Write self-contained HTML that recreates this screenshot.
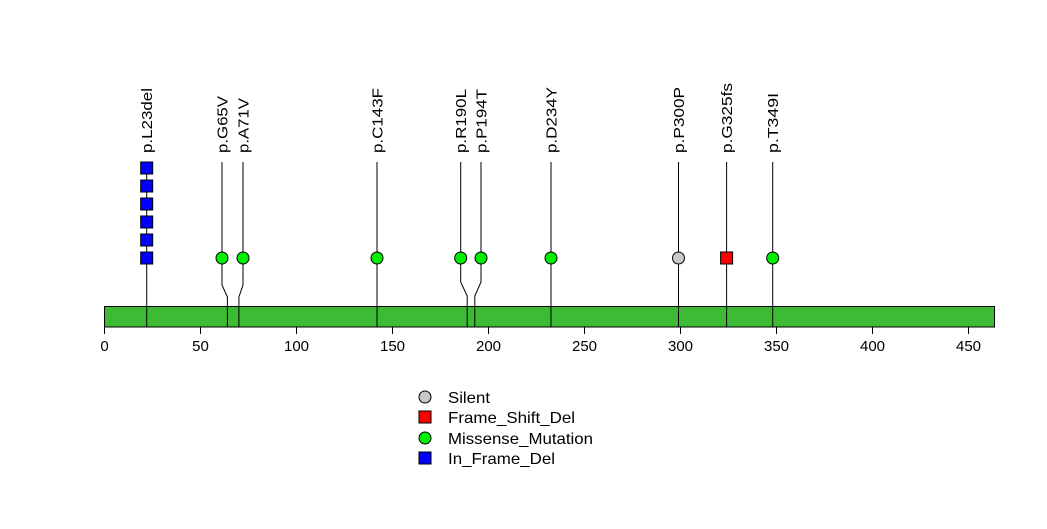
<!DOCTYPE html>
<html><head><meta charset="utf-8"><style>html,body{margin:0;padding:0;background:#fff}</style></head>
<body>
<svg width="1047" height="524" xmlns="http://www.w3.org/2000/svg" font-family="Liberation Sans, sans-serif">
<rect width="1047" height="524" fill="#fff"/>
<g stroke="#000" stroke-width="1" fill="none">
<line x1="146.7" y1="162" x2="146.7" y2="327"/>
<polyline points="222,162 222,285 227.4,297 227.4,327"/>
<polyline points="243,162 243,285 238.9,297 238.9,327"/>
<line x1="377" y1="162" x2="377" y2="327"/>
<polyline points="460.7,162 460.7,282 467.2,296 467.2,327"/>
<polyline points="481,162 481,282 474.8,296 474.8,327"/>
<line x1="551" y1="162" x2="551" y2="327"/>
<line x1="678.5" y1="162" x2="678.5" y2="327"/>
<line x1="726.6" y1="162" x2="726.6" y2="327"/>
<line x1="772.7" y1="162" x2="772.7" y2="327"/>
</g>
<rect x="104.5" y="306.5" width="890" height="20.5" fill="#3dbb35" stroke="#000"/>
<g stroke="#000">
<line x1="146.7" y1="306.5" x2="146.7" y2="327"/>
<line x1="227.4" y1="306.5" x2="227.4" y2="327"/>
<line x1="238.9" y1="306.5" x2="238.9" y2="327"/>
<line x1="377" y1="306.5" x2="377" y2="327"/>
<line x1="467.2" y1="306.5" x2="467.2" y2="327"/>
<line x1="474.8" y1="306.5" x2="474.8" y2="327"/>
<line x1="551" y1="306.5" x2="551" y2="327"/>
<line x1="678.5" y1="306.5" x2="678.5" y2="327"/>
<line x1="726.6" y1="306.5" x2="726.6" y2="327"/>
<line x1="772.7" y1="306.5" x2="772.7" y2="327"/>
<line x1="104.5" y1="327" x2="968.5" y2="327"/>
<line x1="104.5" y1="327" x2="104.5" y2="334"/>
<line x1="200.5" y1="327" x2="200.5" y2="334"/>
<line x1="296.5" y1="327" x2="296.5" y2="334"/>
<line x1="392.5" y1="327" x2="392.5" y2="334"/>
<line x1="488.5" y1="327" x2="488.5" y2="334"/>
<line x1="584.5" y1="327" x2="584.5" y2="334"/>
<line x1="680.5" y1="327" x2="680.5" y2="334"/>
<line x1="776.5" y1="327" x2="776.5" y2="334"/>
<line x1="872.5" y1="327" x2="872.5" y2="334"/>
<line x1="968.5" y1="327" x2="968.5" y2="334"/>
</g>
<g font-size="15" text-anchor="middle" fill="#000">
<text x="104.5" y="351">0</text><text x="200.5" y="351">50</text><text x="296.5" y="351">100</text>
<text x="392.5" y="351">150</text><text x="488.5" y="351">200</text><text x="584.5" y="351">250</text>
<text x="680.5" y="351">300</text><text x="776.5" y="351">350</text><text x="872.5" y="351">400</text>
<text x="968.5" y="351">450</text>
</g>
<g stroke="#000" fill="#0000ff">
<rect x="140.7" y="162" width="12" height="12"/><rect x="140.7" y="180" width="12" height="12"/>
<rect x="140.7" y="198" width="12" height="12"/><rect x="140.7" y="216" width="12" height="12"/>
<rect x="140.7" y="234" width="12" height="12"/><rect x="140.7" y="252" width="12" height="12"/>
</g>
<g stroke="#000" fill="#00ee00">
<circle cx="222" cy="258" r="6"/><circle cx="243" cy="258" r="6"/><circle cx="377" cy="258" r="6"/>
<circle cx="460.7" cy="258" r="6"/><circle cx="481" cy="258" r="6"/><circle cx="551" cy="258" r="6"/>
<circle cx="772.7" cy="258" r="6"/>
</g>
<circle cx="678.5" cy="258" r="6" fill="#c8c8c8" stroke="#000"/>
<rect x="720.6" y="252" width="12" height="12" fill="#ff0000" stroke="#000"/>
<g font-size="15" fill="#000">
<text transform="translate(152,153) rotate(-90)" textLength="65" lengthAdjust="spacingAndGlyphs">p.L23del</text>
<text transform="translate(227.5,153) rotate(-90)" textLength="57" lengthAdjust="spacingAndGlyphs">p.G65V</text>
<text transform="translate(248.5,153) rotate(-90)" textLength="55" lengthAdjust="spacingAndGlyphs">p.A71V</text>
<text transform="translate(382.5,153) rotate(-90)" textLength="65" lengthAdjust="spacingAndGlyphs">p.C143F</text>
<text transform="translate(466.2,153) rotate(-90)" textLength="64" lengthAdjust="spacingAndGlyphs">p.R190L</text>
<text transform="translate(486.5,153) rotate(-90)" textLength="64" lengthAdjust="spacingAndGlyphs">p.P194T</text>
<text transform="translate(556.5,153) rotate(-90)" textLength="66" lengthAdjust="spacingAndGlyphs">p.D234Y</text>
<text transform="translate(684,153) rotate(-90)" textLength="66" lengthAdjust="spacingAndGlyphs">p.P300P</text>
<text transform="translate(732.1,153) rotate(-90)" textLength="70" lengthAdjust="spacingAndGlyphs">p.G325fs</text>
<text transform="translate(778.2,153) rotate(-90)" textLength="60" lengthAdjust="spacingAndGlyphs">p.T349I</text>
</g>
<circle cx="425" cy="397" r="6" fill="#c8c8c8" stroke="#000"/>
<rect x="419" y="411" width="12" height="12" fill="#ff0000" stroke="#000"/>
<circle cx="425" cy="438" r="6" fill="#00ee00" stroke="#000"/>
<rect x="419" y="452" width="12" height="12" fill="#0000ff" stroke="#000"/>
<g font-size="16" fill="#000">
<text x="448" y="403" textLength="42" lengthAdjust="spacingAndGlyphs">Silent</text>
<text x="448" y="423" textLength="127" lengthAdjust="spacingAndGlyphs">Frame_Shift_Del</text>
<text x="448" y="444" textLength="145" lengthAdjust="spacingAndGlyphs">Missense_Mutation</text>
<text x="448" y="464" textLength="107" lengthAdjust="spacingAndGlyphs">In_Frame_Del</text>
</g>
</svg>
</body></html>
